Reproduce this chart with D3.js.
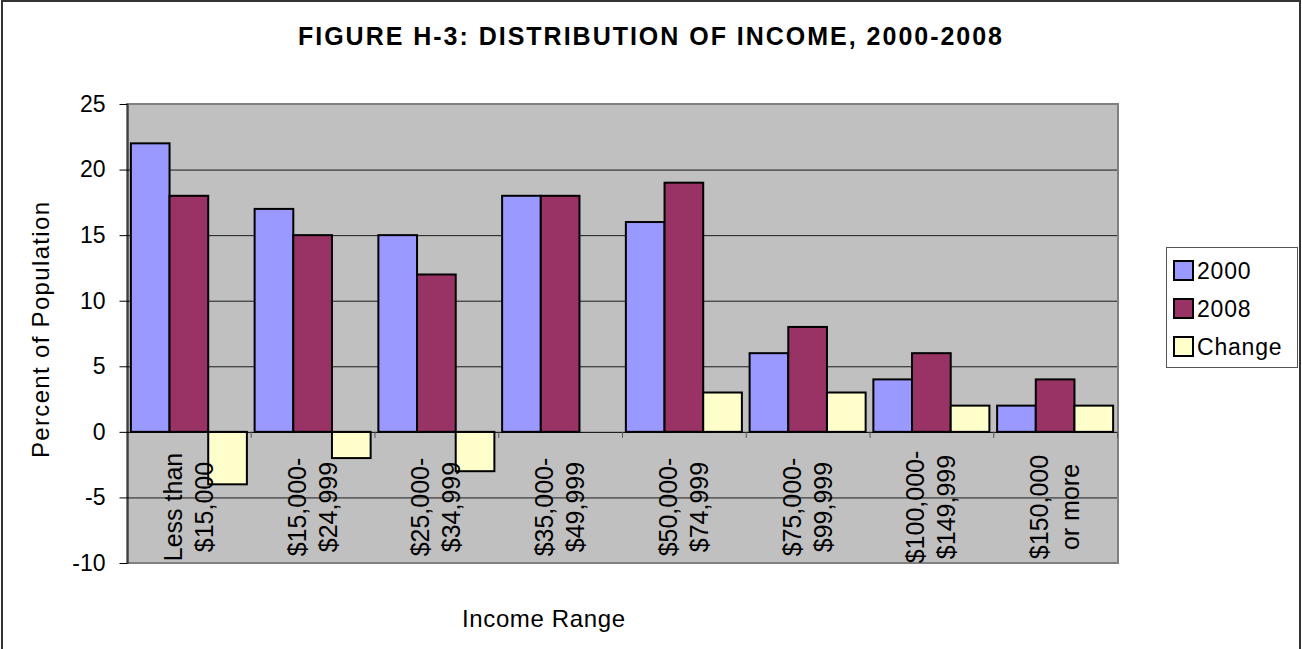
<!DOCTYPE html>
<html>
<head>
<meta charset="utf-8">
<script src="https://cdn.jsdelivr.net/npm/d3@7"></script>
<style>
  html, body { margin: 0; padding: 0; background: #fff; }
  svg { display: block; font-family: "Liberation Sans", Arial, sans-serif; }
</style>
</head>
<body>
<svg id="chart" width="1302" height="649"></svg>
<script>
// ---- Data ----
const categories = [
  ["Less than", "$15,000"],
  ["$15,000-", "$24,999"],
  ["$25,000-", "$34,999"],
  ["$35,000-", "$49,999"],
  ["$50,000-", "$74,999"],
  ["$75,000-", "$99,999"],
  ["$100,000-", "$149,999"],
  ["$150,000", "or more"]
];
const seriesNames = ["2000", "2008", "Change"];
const values2000 = [22, 17, 15, 18, 16, 6, 4, 2];
const values2008 = [18, 15, 12, 18, 19, 8, 6, 4];
const valuesChange = [-4, -2, -3, 0, 3, 3, 2, 2];
const yTicks = [-10, -5, 0, 5, 10, 15, 20, 25];
const seriesColors = ["#9999FF", "#993366", "#FFFFCC"];
const titleText = "FIGURE H-3: DISTRIBUTION OF INCOME, 2000-2008";
const yTitle = "Percent of Population";
const xTitle = "Income Range";

const seriesValues = [values2000, values2008, valuesChange];

// ---- Layout ----
const svg = d3.select("#chart");
const plot = { left: 127, right: 1117, top: 104, bottom: 563 };

const x0 = d3.scaleBand().domain(d3.range(categories.length))
  .range([plot.left, plot.right]).paddingInner(0).paddingOuter(0);
const x1 = d3.scaleBand().domain(seriesNames)
  .range([0, x0.bandwidth()]).paddingInner(0).paddingOuter(0.1);
const y = d3.scaleLinear().domain([-10, 25]).range([plot.bottom, plot.top]);
const color = d3.scaleOrdinal().domain(seriesNames).range(seriesColors);

// outer chart border
svg.append("rect")
  .attr("x", 2).attr("y", 1).attr("width", 1298).attr("height", 720)
  .attr("fill", "none").attr("stroke", "#333").attr("stroke-width", 2);

// plot area
svg.append("rect")
  .attr("x", plot.left).attr("y", plot.top)
  .attr("width", plot.right - plot.left + 1).attr("height", plot.bottom - plot.top)
  .attr("fill", "#C0C0C0").attr("stroke", "#808080").attr("stroke-width", 2);

// gridlines
svg.append("g").selectAll("line")
  .data(yTicks.filter(t => t !== 0 && t !== -10 && t !== 25))
  .join("line")
  .attr("x1", plot.left).attr("x2", plot.right)
  .attr("y1", d => y(d) + 0.5).attr("y2", d => y(d) + 0.5)
  .attr("stroke", "#1a1a1a").attr("stroke-width", 1);

// bars
const data = [];
categories.forEach((c, i) => {
  seriesNames.forEach((s, j) => {
    data.push({ cat: i, series: s, value: seriesValues[j][i] });
  });
});

svg.append("g").selectAll("rect")
  .data(data.filter(d => d.value !== 0))
  .join("rect")
  .attr("x", d => x0(d.cat) + x1(d.series))
  .attr("y", d => y(Math.max(0, d.value)))
  .attr("width", x1.bandwidth())
  .attr("height", d => Math.abs(y(d.value) - y(0)))
  .attr("fill", d => color(d.series))
  .attr("stroke", "#000").attr("stroke-width", 2);

// x axis line at zero
svg.append("line")
  .attr("x1", plot.left).attr("x2", plot.right)
  .attr("y1", y(0) + 0.5).attr("y2", y(0) + 0.5)
  .attr("stroke", "#000").attr("stroke-width", 1);

// x axis ticks at category boundaries
const boundaries = d3.range(categories.length + 1).map(i =>
  i < categories.length ? x0(i) : x0.range()[1]);
svg.append("g").selectAll("line")
  .data(boundaries.slice(1))
  .join("line")
  .attr("x1", d => d + 0.5).attr("x2", d => d + 0.5)
  .attr("y1", y(0)).attr("y2", y(0) + 6)
  .attr("stroke", "#555").attr("stroke-width", 1);

// category labels (rotated, drawn over bars)
const labelCenterY = 507;
const catG = svg.append("g").attr("font-size", 25).attr("fill", "#000");
categories.forEach((lines, i) => {
  const cx = x0(i) + x0.bandwidth() / 2;
  const offsets = [-7, 24];
  lines.forEach((ln, k) => {
    catG.append("text")
      .attr("transform", `translate(${cx + offsets[k]},${labelCenterY}) rotate(-90)`)
      .attr("text-anchor", "middle")
      .text(ln);
  });
});

// y axis
const yAxis = d3.axisLeft(y).tickValues(yTicks).tickSize(8).tickSizeOuter(0).tickPadding(14)
  .tickFormat(d => String(d));
const yg = svg.append("g").attr("transform", `translate(${plot.left + 0.5},0)`).call(yAxis);
yg.select(".domain").attr("stroke", "#000");
yg.selectAll(".tick line").attr("stroke", "#000");
yg.selectAll(".tick text").attr("font-size", 23).attr("fill", "#000")
  .attr("font-family", "Liberation Sans, Arial, sans-serif");

// title
svg.append("text")
  .attr("x", 650).attr("y", 45)
  .attr("text-anchor", "middle")
  .attr("font-size", 25).attr("font-weight", "bold")
  .attr("textLength", 704).attr("lengthAdjust", "spacing")
  .text(titleText);

// y title
svg.append("text")
  .attr("transform", "translate(49,330) rotate(-90)")
  .attr("text-anchor", "middle")
  .attr("font-size", 24)
  .attr("textLength", 256).attr("lengthAdjust", "spacing")
  .text(yTitle);

// x title
svg.append("text")
  .attr("x", 543.5).attr("y", 627)
  .attr("text-anchor", "middle")
  .attr("font-size", 24)
  .attr("textLength", 163).attr("lengthAdjust", "spacing")
  .text(xTitle);

// legend
const legend = svg.append("g");
legend.append("rect")
  .attr("x", 1166.5).attr("y", 247.5).attr("width", 131).attr("height", 120)
  .attr("fill", "#fff").attr("stroke", "#555").attr("stroke-width", 1);
seriesNames.forEach((s, i) => {
  legend.append("rect")
    .attr("x", 1174).attr("y", 261 + i * 38).attr("width", 19).attr("height", 19)
    .attr("fill", color(s)).attr("stroke", "#000").attr("stroke-width", 2);
  legend.append("text")
    .attr("x", 1197).attr("y", 279 + i * 38)
    .attr("font-size", 23).attr("letter-spacing", 0.8)
    .text(s);
});
</script>
</body>
</html>
